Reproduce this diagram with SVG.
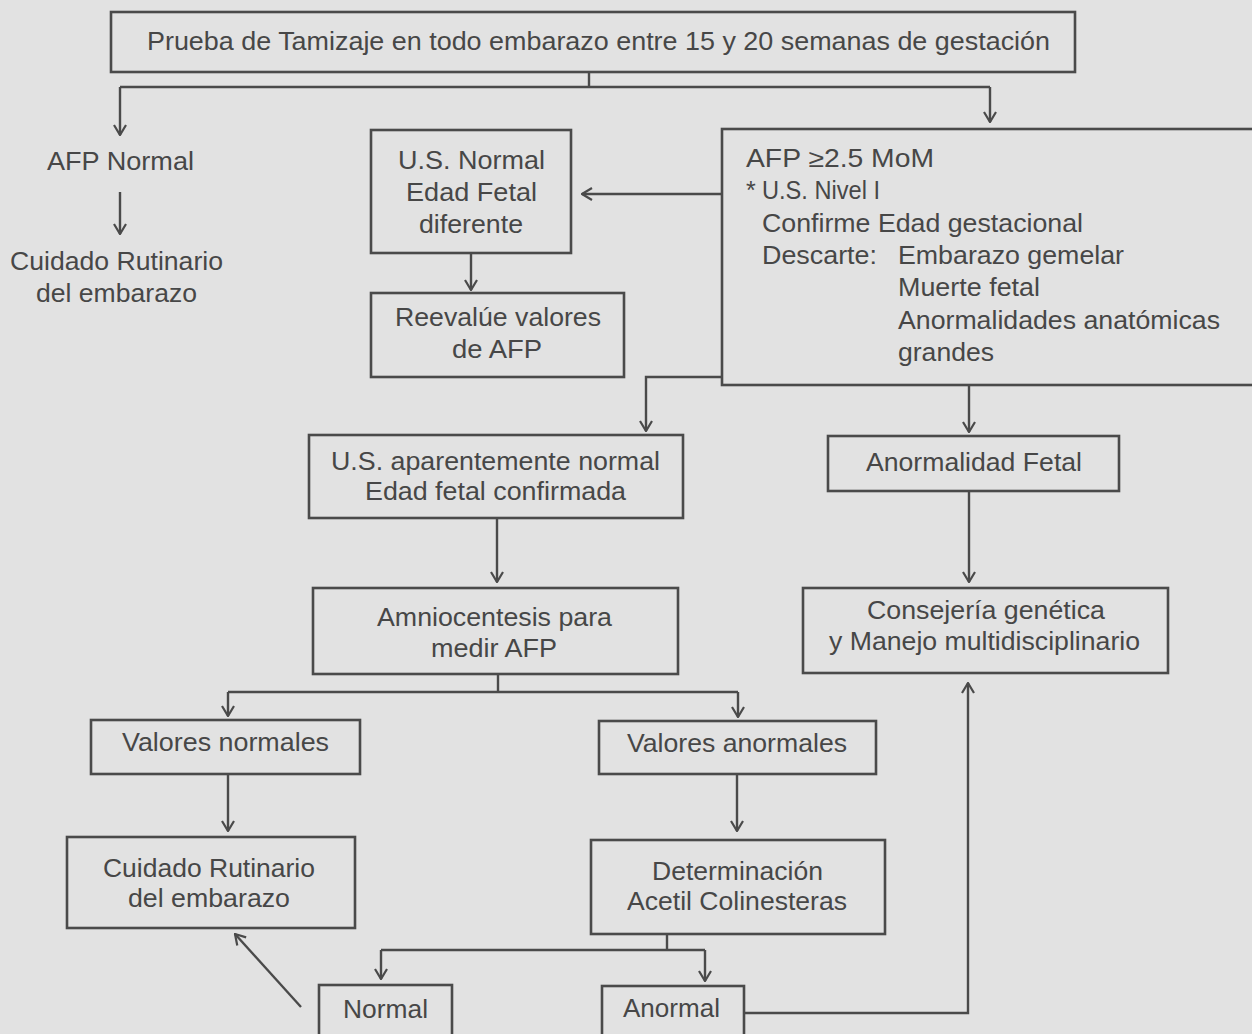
<svg xmlns="http://www.w3.org/2000/svg" width="1252" height="1034" viewBox="0 0 1252 1034">
<defs>
<marker id="ah" viewBox="0 0 12 14" refX="11" refY="7" markerWidth="12" markerHeight="14" markerUnits="userSpaceOnUse" orient="auto">
<path d="M1,1 L11,7 L1,13" fill="none" stroke="#4a4a4a" stroke-width="2.2"/>
</marker>
</defs>
<style>
.bg{fill:#e2e2e2}
.box{fill:none;stroke:#4a4a4a;stroke-width:2.6}
.ln{fill:none;stroke:#4a4a4a;stroke-width:2.4}
.ar{fill:none;stroke:#4a4a4a;stroke-width:2.4;marker-end:url(#ah)}
text{font-family:"Liberation Sans",Arial,sans-serif;font-size:25px;fill:#474747}
.c{font-size:26px}
</style>
<rect class="bg" x="0" y="0" width="1252" height="1034"/>

<g id="connectors">
<path class="ln" d="M589,72 V87 M120,87 H990"/>
<path class="ar" d="M120,87 V135"/>
<path class="ar" d="M990,87 V122"/>
<path class="ar" d="M120,192 V234"/>
<path class="ar" d="M722,194 H582"/>
<path class="ar" d="M471,253 V290"/>
<path class="ar" d="M722,377 H646 V431"/>
<path class="ar" d="M969,385 V432"/>
<path class="ar" d="M969,491 V582"/>
<path class="ar" d="M497,518 V582"/>
<path class="ln" d="M498,674 V692 M228,692 H738"/>
<path class="ar" d="M228,692 V716"/>
<path class="ar" d="M738,692 V717"/>
<path class="ar" d="M228,774 V831"/>
<path class="ar" d="M737,774 V831"/>
<path class="ln" d="M667,934 V950 M381,950 H705"/>
<path class="ar" d="M381,950 V979"/>
<path class="ar" d="M705,950 V981"/>
<path class="ar" d="M744,1013 H968 V683"/>
<path class="ar" d="M301,1007 L235,934"/>
</g>

<g id="n-top">
<rect class="box" x="111" y="12" width="964" height="60"/>
<text x="147" y="50" textLength="903" lengthAdjust="spacingAndGlyphs">Prueba de Tamizaje en todo embarazo entre 15 y 20 semanas de gestación</text>
</g>

<g id="n-afpnormal">
<text class="c" x="47" y="170" textLength="147" lengthAdjust="spacingAndGlyphs">AFP Normal</text>
</g>

<g id="n-cuidado1">
<text class="c" x="10" y="270" textLength="213" lengthAdjust="spacingAndGlyphs">Cuidado Rutinario</text>
<text class="c" x="36" y="302" textLength="161" lengthAdjust="spacingAndGlyphs">del embarazo</text>
</g>

<g id="n-usnormal">
<rect class="box" x="371" y="130" width="200" height="123"/>
<text class="c" x="398" y="169" textLength="147" lengthAdjust="spacingAndGlyphs">U.S. Normal</text>
<text class="c" x="406" y="201" textLength="131" lengthAdjust="spacingAndGlyphs">Edad Fetal</text>
<text class="c" x="419" y="233" textLength="104" lengthAdjust="spacingAndGlyphs">diferente</text>
</g>

<g id="n-reevalue">
<rect class="box" x="371" y="293" width="253" height="84"/>
<text class="c" x="395" y="326" textLength="206" lengthAdjust="spacingAndGlyphs">Reevalúe valores</text>
<text class="c" x="452" y="358" textLength="90" lengthAdjust="spacingAndGlyphs">de AFP</text>
</g>

<g id="n-afp25">
<rect class="box" x="722" y="129" width="540" height="256"/>
<text x="746" y="167" textLength="188" lengthAdjust="spacingAndGlyphs">AFP ≥2.5 MoM</text>
<text x="746" y="199">*</text>
<text x="762" y="199" textLength="118" lengthAdjust="spacingAndGlyphs">U.S. Nivel I</text>
<text x="762" y="232" textLength="321" lengthAdjust="spacingAndGlyphs">Confirme Edad gestacional</text>
<text x="762" y="264" textLength="115" lengthAdjust="spacingAndGlyphs">Descarte:</text>
<text x="898" y="264" textLength="226" lengthAdjust="spacingAndGlyphs">Embarazo gemelar</text>
<text x="898" y="296" textLength="142" lengthAdjust="spacingAndGlyphs">Muerte fetal</text>
<text x="898" y="329" textLength="322" lengthAdjust="spacingAndGlyphs">Anormalidades anatómicas</text>
<text x="898" y="361" textLength="96" lengthAdjust="spacingAndGlyphs">grandes</text>
</g>

<g id="n-usaparente">
<rect class="box" x="309" y="435" width="374" height="83"/>
<text x="331" y="470" textLength="329" lengthAdjust="spacingAndGlyphs">U.S. aparentemente normal</text>
<text x="365" y="500" textLength="261" lengthAdjust="spacingAndGlyphs">Edad fetal confirmada</text>
</g>

<g id="n-anormalidad">
<rect class="box" x="828" y="436" width="291" height="55"/>
<text x="866" y="471" textLength="216" lengthAdjust="spacingAndGlyphs">Anormalidad Fetal</text>
</g>

<g id="n-amnio">
<rect class="box" x="313" y="588" width="365" height="86"/>
<text x="377" y="626" textLength="235" lengthAdjust="spacingAndGlyphs">Amniocentesis para</text>
<text x="431" y="657" textLength="126" lengthAdjust="spacingAndGlyphs">medir AFP</text>
</g>

<g id="n-consejeria">
<rect class="box" x="803" y="588" width="365" height="85"/>
<text x="867" y="619" textLength="238" lengthAdjust="spacingAndGlyphs">Consejería genética</text>
<text x="829" y="650" textLength="311" lengthAdjust="spacingAndGlyphs">y Manejo multidisciplinario</text>
</g>

<g id="n-valnormales">
<rect class="box" x="91" y="720" width="269" height="54"/>
<text class="c" x="122" y="751" textLength="207" lengthAdjust="spacingAndGlyphs">Valores normales</text>
</g>

<g id="n-valanormales">
<rect class="box" x="599" y="721" width="277" height="53"/>
<text class="c" x="627" y="752" textLength="220" lengthAdjust="spacingAndGlyphs">Valores anormales</text>
</g>

<g id="n-cuidado2">
<rect class="box" x="67" y="837" width="288" height="91"/>
<text class="c" x="103" y="877" textLength="212" lengthAdjust="spacingAndGlyphs">Cuidado Rutinario</text>
<text class="c" x="128" y="907" textLength="162" lengthAdjust="spacingAndGlyphs">del embarazo</text>
</g>

<g id="n-determinacion">
<rect class="box" x="591" y="840" width="294" height="94"/>
<text class="c" x="652" y="880" textLength="171" lengthAdjust="spacingAndGlyphs">Determinación</text>
<text class="c" x="627" y="910" textLength="220" lengthAdjust="spacingAndGlyphs">Acetil Colinesteras</text>
</g>

<g id="n-normal">
<rect class="box" x="319" y="985" width="133" height="60"/>
<text class="c" x="343" y="1018" textLength="85" lengthAdjust="spacingAndGlyphs">Normal</text>
</g>

<g id="n-anormal">
<rect class="box" x="602" y="986" width="142" height="60"/>
<text class="c" x="623" y="1017" textLength="97" lengthAdjust="spacingAndGlyphs">Anormal</text>
</g>
</svg>
